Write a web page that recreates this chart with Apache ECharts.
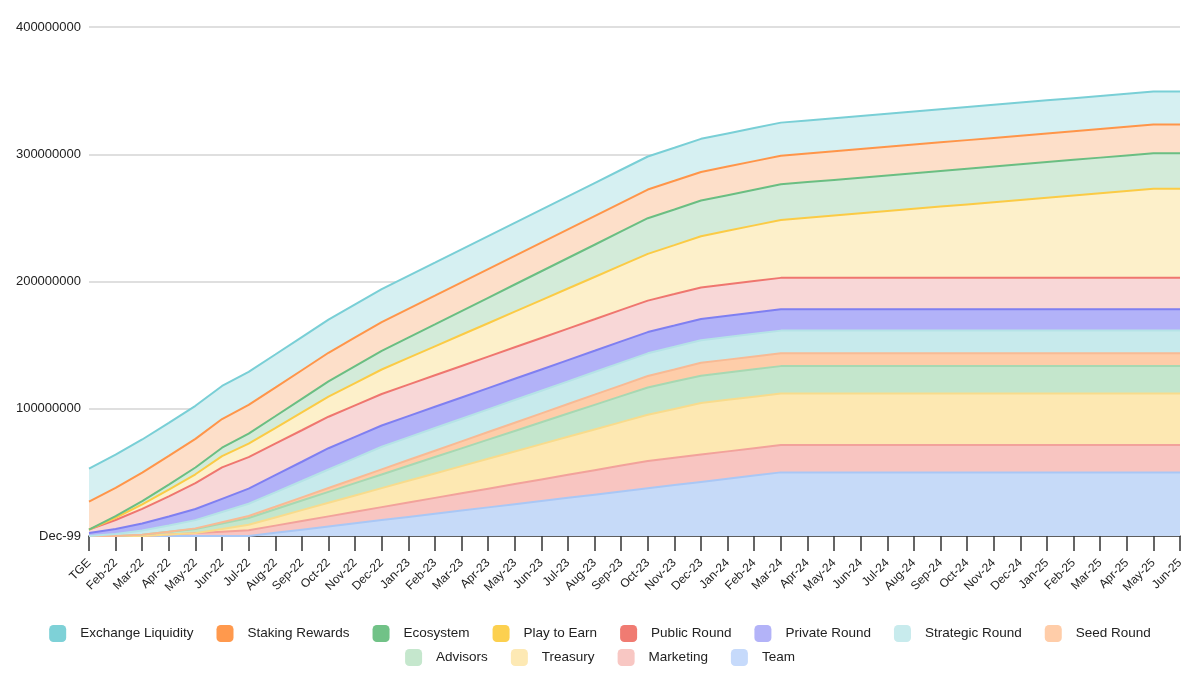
<!DOCTYPE html>
<html>
<head>
<meta charset="utf-8">
<script src="https://cdn.jsdelivr.net/npm/echarts@6/dist/echarts.min.js"></script>
<style>
html,body{margin:0;padding:0;background:#fff;}
#chart{width:1200px;height:676px;}
</style>
</head>
<body>
<div id="chart"></div>
<script>
// categories (x axis)
const categories = ['TGE','Feb-22','Mar-22','Apr-22','May-22','Jun-22','Jul-22','Aug-22','Sep-22','Oct-22','Nov-22','Dec-22',
'Jan-23','Feb-23','Mar-23','Apr-23','May-23','Jun-23','Jul-23','Aug-23','Sep-23','Oct-23','Nov-23','Dec-23',
'Jan-24','Feb-24','Mar-24','Apr-24','May-24','Jun-24','Jul-24','Aug-24','Sep-24','Oct-24','Nov-24','Dec-24',
'Jan-25','Feb-25','Mar-25','Apr-25','May-25','Jun-25'];

// y tick labels (every 100,000,000)
const yTickLabels = ['Dec-99','100000000','200000000','300000000','400000000'];

// series values, millions of tokens (stack order bottom -> top)
const team = [0,0,0,0,0,0,0,2.5,5,7.5,10,12.5,15,17.5,20,22.5,25,27.5,30,32.5,35,37.5,40,42.5,45,47.5,50,50,50,50,50,50,50,50,50,50,50,50,50,50,50,50];
const marketing = [0,0,0,1.13,2.26,3.39,4.53,5.66,6.79,7.92,9.05,10.18,11.32,12.45,13.58,14.71,15.84,16.97,18.1,19.24,20.37,21.5,21.5,21.5,21.5,21.5,21.5,21.5,21.5,21.5,21.5,21.5,21.5,21.5,21.5,21.5,21.5,21.5,21.5,21.5,21.5,21.5];
const treasury = [0,0,0,0,0,2.13,4.26,6.39,8.53,10.66,12.79,14.92,17.05,19.18,21.32,23.45,25.58,27.71,29.84,31.97,34.11,36.24,38.37,40.5,40.5,40.5,40.5,40.5,40.5,40.5,40.5,40.5,40.5,40.5,40.5,40.5,40.5,40.5,40.5,40.5,40.5,40.5];
const advisors = [0,0,1.08,2.15,3.23,4.3,5.38,6.45,7.53,8.6,9.68,10.75,11.83,12.9,13.98,15.05,16.13,17.2,18.28,19.35,20.43,21.5,21.5,21.5,21.5,21.5,21.5,21.5,21.5,21.5,21.5,21.5,21.5,21.5,21.5,21.5,21.5,21.5,21.5,21.5,21.5,21.5];
const seedRound = [0,0,0,0,0.5,1,1.5,2,2.5,3,3.5,4,4.5,5,5.5,6,6.5,7,7.5,8,8.5,9,9.5,10.1,10.1,10.1,10.1,10.1,10.1,10.1,10.1,10.1,10.1,10.1,10.1,10.1,10.1,10.1,10.1,10.1,10.1,10.1];
const strategicRound = [0,1.6,3.2,4.9,6.5,8.1,9.7,11.3,12.9,14.6,16.2,17.8,17.8,17.8,17.8,17.8,17.8,17.8,17.8,17.8,17.8,17.8,17.8,17.8,17.8,17.8,17.8,17.8,17.8,17.8,17.8,17.8,17.8,17.8,17.8,17.8,17.8,17.8,17.8,17.8,17.8,17.8];
const privateRound = [2.3,3.9,5.5,7.1,8.7,10.3,11.9,13.5,15.1,16.7,16.7,16.7,16.7,16.7,16.7,16.7,16.7,16.7,16.7,16.7,16.7,16.7,16.7,16.7,16.7,16.7,16.7,16.7,16.7,16.7,16.7,16.7,16.7,16.7,16.7,16.7,16.7,16.7,16.7,16.7,16.7,16.7];
const publicRound = [2.7,7.1,11.5,15.9,20.3,24.75,24.75,24.75,24.75,24.75,24.75,24.75,24.75,24.75,24.75,24.75,24.75,24.75,24.75,24.75,24.75,24.75,24.75,24.75,24.75,24.75,24.75,24.75,24.75,24.75,24.75,24.75,24.75,24.75,24.75,24.75,24.75,24.75,24.75,24.75,24.75,24.75];
const playToEarn = [0,1.75,3.5,5.25,7,8.75,10.5,12.25,14,15.75,17.5,19.25,21,22.75,24.5,26.25,28,29.75,31.5,33.25,35,36.75,38.5,40.25,42,43.75,45.5,47.25,49,50.75,52.5,54.25,56,57.75,59.5,61.25,63,64.75,66.5,68.25,70,70];
const ecosystem = [0,1.33,2.67,4,5.33,6.67,8,9.33,10.67,12,13.33,14.67,16,17.33,18.67,20,21.33,22.67,24,25.33,26.67,28,28,28,28,28,28,28,28,28,28,28,28,28,28,28,28,28,28,28,28,28];
const stakingRewards = [22,22.2,22.4,22.5,22.5,22.5,22.5,22.5,22.5,22.5,22.5,22.5,22.5,22.5,22.5,22.5,22.5,22.5,22.5,22.5,22.5,22.5,22.5,22.5,22.5,22.5,22.5,22.5,22.5,22.5,22.5,22.5,22.5,22.5,22.5,22.5,22.5,22.5,22.5,22.5,22.5,22.5];
const exchangeLiquidity = [26,26,26,26,26,26,26,26,26,26,26,26,26,26,26,26,26,26,26,26,26,26,26,26,26,26,26,26,26,26,26,26,26,26,26,26,26,26,26,26,26,26];

// [name, data, legend colour, line colour, fill colour]
const seriesDefs = [
  ['Team', team, '#C6DAFB', '#A9C7F5', '#C6DAF8'],
  ['Marketing', marketing, '#F8C7C3', '#F2A29B', '#F8C5C1'],
  ['Treasury', treasury, '#FDE9B4', '#F8DB8C', '#FDE8B2'],
  ['Advisors', advisors, '#C5E7CD', '#A7D8B2', '#C4E6CC'],
  ['Seed Round', seedRound, '#FFCDA9', '#F8BA94', '#FECDA9'],
  ['Strategic Round', strategicRound, '#C8EBED', '#B5E3E6', '#C7EAEC'],
  ['Private Round', privateRound, '#B3B3F8', '#7F7FF1', '#B2B2F8'],
  ['Public Round', publicRound, '#F07B72', '#EF766F', '#F8D7D7'],
  ['Play to Earn', playToEarn, '#FCD04F', '#FBCB45', '#FDF0CA'],
  ['Ecosystem', ecosystem, '#71C287', '#6ABE82', '#D3EBD9'],
  ['Staking Rewards', stakingRewards, '#FF994D', '#FF9549', '#FDDFC9'],
  ['Exchange Liquidity', exchangeLiquidity, '#7ED1D7', '#79CFD6', '#D6F0F2']
];

const legendRow1 = ['Exchange Liquidity','Staking Rewards','Ecosystem','Play to Earn','Public Round','Private Round','Strategic Round','Seed Round'];
const legendRow2 = ['Advisors','Treasury','Marketing','Team'];
const legendColor = {};
seriesDefs.forEach(d => legendColor[d[0]] = d[2]);

const chart = echarts.init(document.getElementById('chart'), null, {renderer: 'canvas'});
const legendCommon = {
  orient: 'horizontal',
  left: 'center',
  icon: 'roundRect',
  itemWidth: 17,
  itemHeight: 17,
  itemGap: 23,
  textStyle: {fontFamily: 'Liberation Sans, Arial, sans-serif', fontSize: 13.5, color: '#222', padding: [0,0,0,9]}
};
chart.setOption({
  animation: false,
  backgroundColor: '#fff',
  grid: {left: 89, right: 20, top: 27, bottom: 140, containLabel: false},
  legend: [
    Object.assign({}, legendCommon, {top: 620, data: legendRow1.map(n => ({name: n, itemStyle: {color: legendColor[n], borderWidth: 0}}))}),
    Object.assign({}, legendCommon, {top: 644, data: legendRow2.map(n => ({name: n, itemStyle: {color: legendColor[n], borderWidth: 0}}))})
  ],
  xAxis: {
    type: 'category',
    data: categories,
    boundaryGap: false,
    axisLine: {show: true, lineStyle: {color: '#333', width: 1.5}},
    axisTick: {show: true, alignWithLabel: true, length: 15, lineStyle: {color: '#333', width: 1.5}, interval: 0},
    axisLabel: {interval: 0, rotate: 45, fontSize: 12, color: '#222', fontFamily: 'Liberation Sans, Arial, sans-serif', margin: 25, padding: [30,0,0,0]},
    splitLine: {show: false}
  },
  yAxis: {
    type: 'value',
    min: 0,
    max: 400,
    interval: 100,
    axisLine: {show: false},
    axisTick: {show: false},
    splitLine: {show: true, lineStyle: {color: '#d4d4d4', width: 1.5}},
    axisLabel: {
      fontSize: 13, color: '#222', fontFamily: 'Liberation Sans, Arial, sans-serif', margin: 8,
      formatter: v => yTickLabels[Math.round(v / 100)]
    }
  },
  series: seriesDefs.map(d => ({
    name: d[0],
    type: 'line',
    stack: 'total',
    data: d[1],
    symbol: 'none',
    showSymbol: false,
    smooth: false,
    itemStyle: {color: d[2]},
    lineStyle: {color: d[3], width: 2},
    areaStyle: {color: d[4], opacity: 1},
    emphasis: {disabled: true}
  }))
});
</script>
</body>
</html>
